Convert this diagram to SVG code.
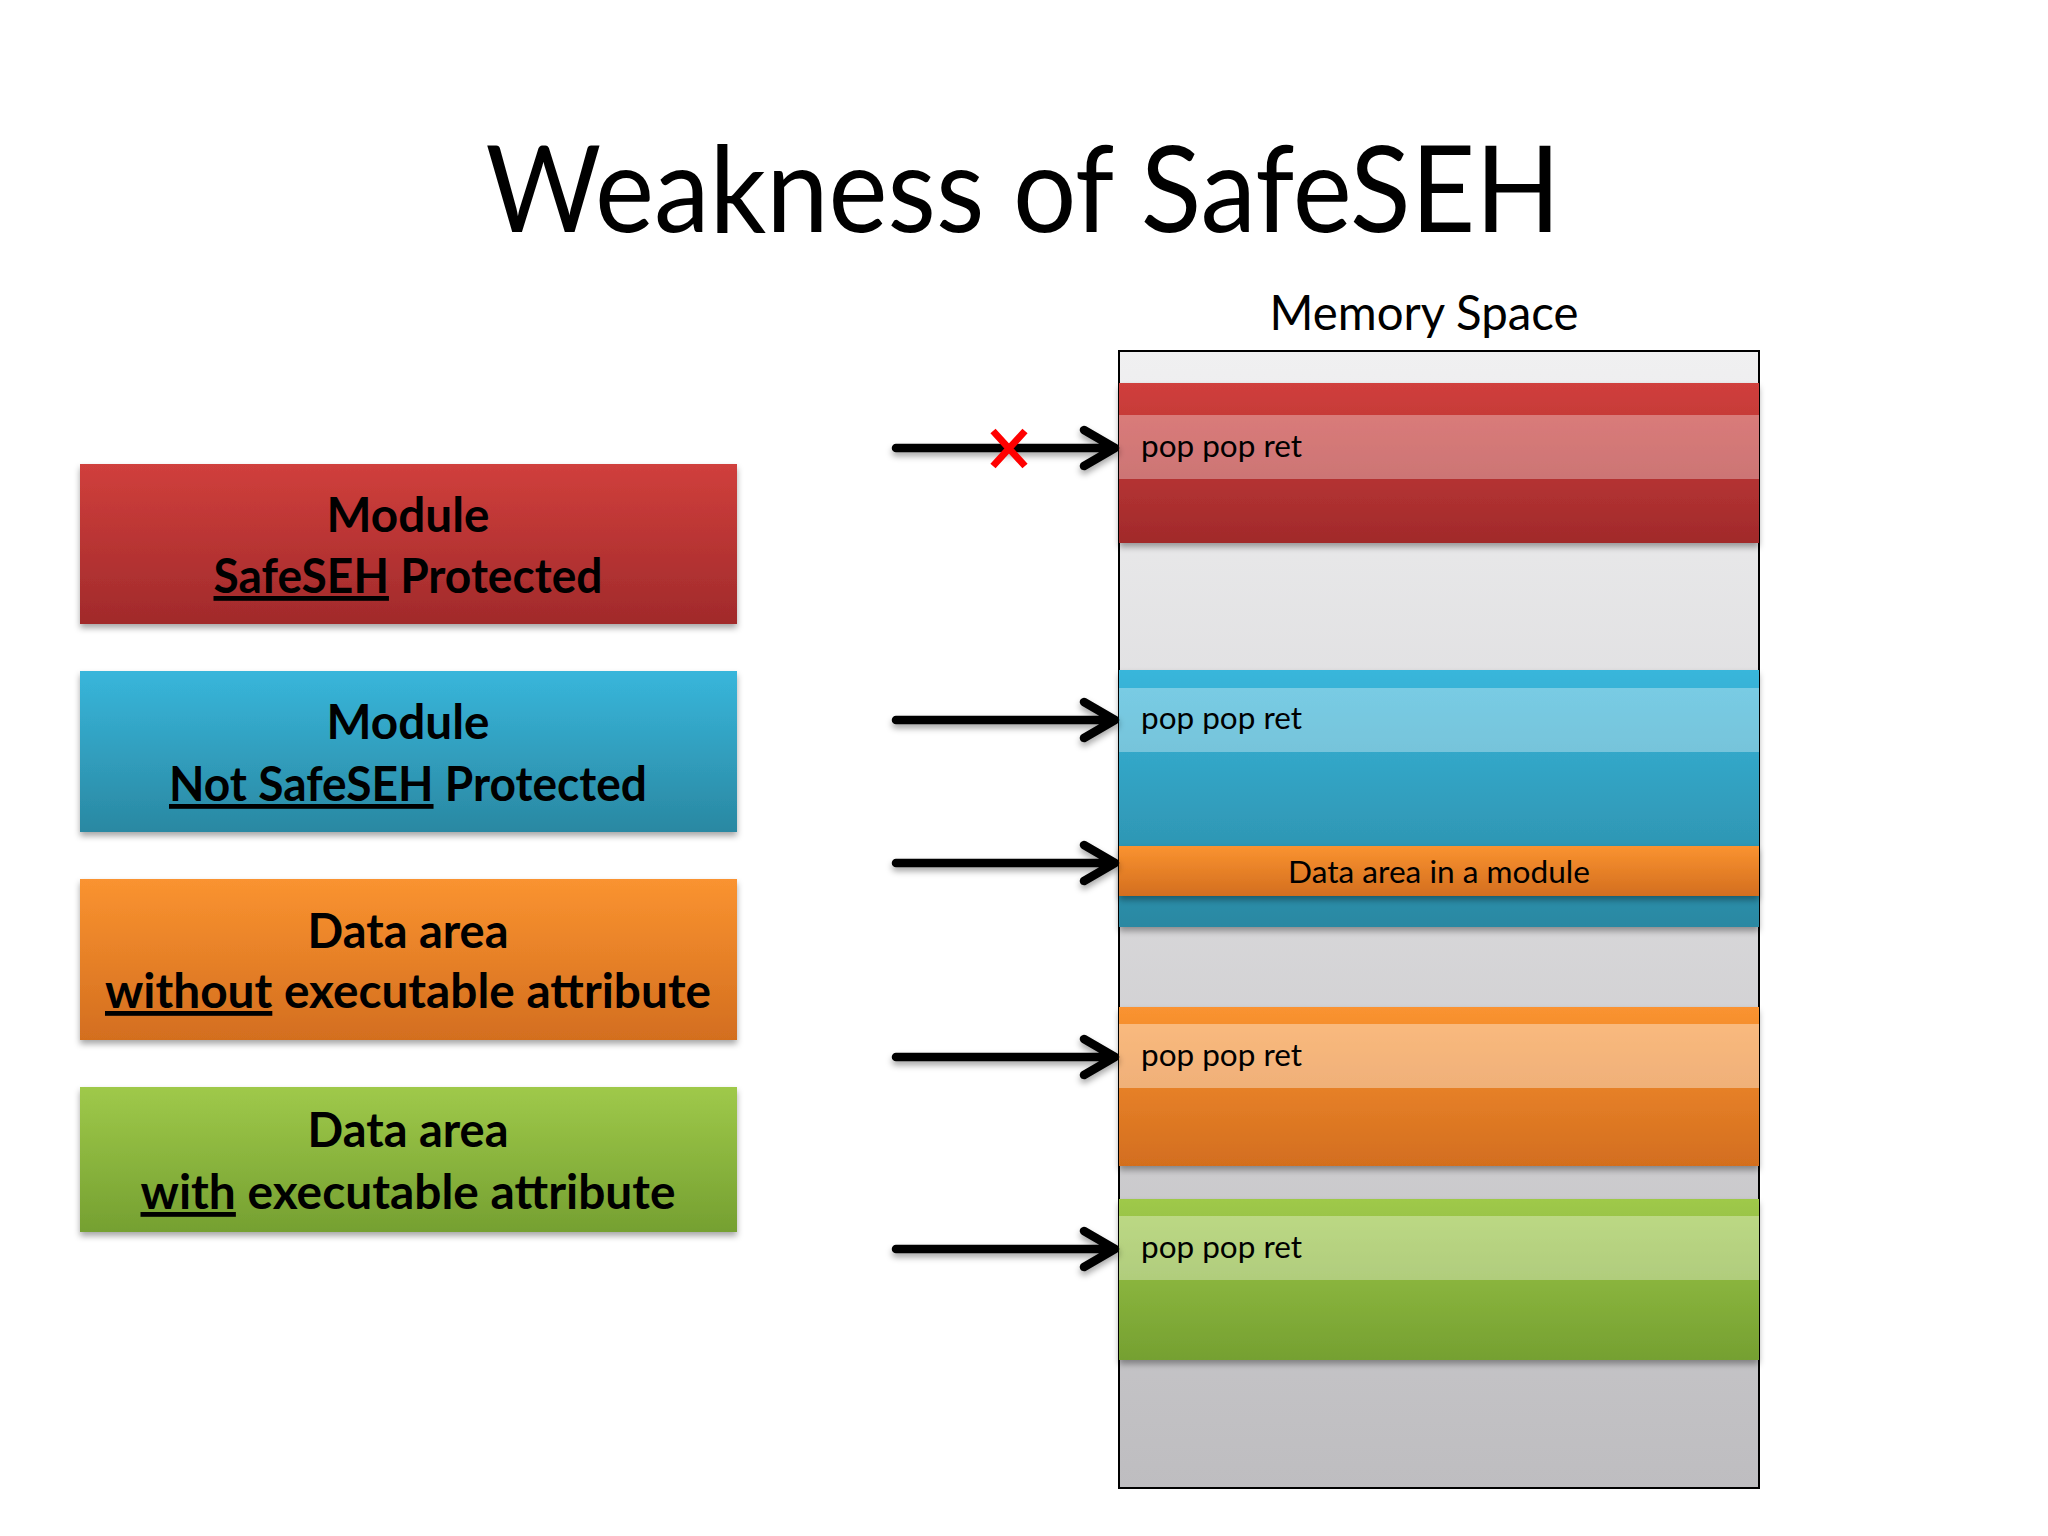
<svg xmlns="http://www.w3.org/2000/svg" width="2048" height="1536" viewBox="0 0 2048 1536">
<style>
.title{font-family:Lato,"Open Sans",sans-serif;font-size:120px;fill:#000}
.mem{font-family:Lato,"Open Sans",sans-serif;font-size:48px;fill:#000}
.lbl{font-family:Lato,"Open Sans",sans-serif;font-size:48px;font-weight:bold;fill:#000}
.ppr{font-family:Lato,"Open Sans",sans-serif;font-size:30px;fill:#000}
.u{text-decoration:underline}
.hl{fill:#fff;fill-opacity:0.33}
.arr{fill:none;stroke:#000;stroke-width:8.5;stroke-linecap:round;stroke-linejoin:round}
</style>
<defs>
<linearGradient id="gGray" x1="0" y1="0" x2="0" y2="1"><stop offset="0" stop-color="#f0f0f1"/><stop offset="1" stop-color="#bebdc0"/></linearGradient>
<linearGradient id="gRed" x1="0" y1="0" x2="0" y2="1"><stop offset="0" stop-color="#d03f3c"/><stop offset="1" stop-color="#a12a2b"/></linearGradient>
<linearGradient id="gBlue" x1="0" y1="0" x2="0" y2="1"><stop offset="0" stop-color="#38b6db"/><stop offset="1" stop-color="#2a88a2"/></linearGradient>
<linearGradient id="gOrange" x1="0" y1="0" x2="0" y2="1"><stop offset="0" stop-color="#fa9330"/><stop offset="1" stop-color="#d36e1f"/></linearGradient>
<linearGradient id="gGreen" x1="0" y1="0" x2="0" y2="1"><stop offset="0" stop-color="#9fc94a"/><stop offset="1" stop-color="#75a031"/></linearGradient>
<filter id="sh" x="-5%" y="-20%" width="110%" height="150%"><feDropShadow dx="0" dy="4" stdDeviation="3" flood-color="#000" flood-opacity="0.35"/></filter>
</defs>

<text class="title" x="1023" y="232" text-anchor="middle" textLength="1075" lengthAdjust="spacingAndGlyphs">Weakness of SafeSEH</text>

<g id="legend-safeseh">
<rect x="80" y="464" width="657" height="160" fill="url(#gRed)" filter="url(#sh)"/>
<text class="lbl" x="408" y="532" text-anchor="middle" textLength="163" lengthAdjust="spacingAndGlyphs">Module</text>
<text class="lbl" x="408" y="593" text-anchor="middle" textLength="389" lengthAdjust="spacingAndGlyphs"><tspan class="u">SafeSEH</tspan> Protected</text>
</g>
<g id="legend-notsafeseh">
<rect x="80" y="671" width="657" height="161" fill="url(#gBlue)" filter="url(#sh)"/>
<text class="lbl" x="408" y="739" text-anchor="middle" textLength="163" lengthAdjust="spacingAndGlyphs">Module</text>
<text class="lbl" x="408" y="801" text-anchor="middle" textLength="478" lengthAdjust="spacingAndGlyphs"><tspan class="u">Not SafeSEH</tspan> Protected</text>
</g>
<g id="legend-data-noexec">
<rect x="80" y="879" width="657" height="161" fill="url(#gOrange)" filter="url(#sh)"/>
<text class="lbl" x="408" y="948" text-anchor="middle" textLength="201" lengthAdjust="spacingAndGlyphs">Data area</text>
<text class="lbl" x="408" y="1008" text-anchor="middle" textLength="606" lengthAdjust="spacingAndGlyphs"><tspan class="u">without</tspan> executable attribute</text>
</g>
<g id="legend-data-exec">
<rect x="80" y="1087" width="657" height="145" fill="url(#gGreen)" filter="url(#sh)"/>
<text class="lbl" x="408" y="1147" text-anchor="middle" textLength="201" lengthAdjust="spacingAndGlyphs">Data area</text>
<text class="lbl" x="408" y="1209" text-anchor="middle" textLength="535" lengthAdjust="spacingAndGlyphs"><tspan class="u">with</tspan> executable attribute</text>
</g>

<g id="memory-space">
<text class="mem" x="1424" y="330" text-anchor="middle" textLength="309" lengthAdjust="spacingAndGlyphs">Memory Space</text>
<rect x="1119" y="351" width="640" height="1137" fill="url(#gGray)" stroke="#000" stroke-width="2"/>
</g>

<g id="mem-safeseh">
<rect x="1119" y="383" width="640" height="160" fill="url(#gRed)" filter="url(#sh)"/>
<rect class="hl" x="1119" y="415" width="640" height="64"/>
<text class="ppr" x="1141" y="457" textLength="161" lengthAdjust="spacingAndGlyphs">pop pop ret</text>
</g>
<g id="mem-notsafeseh">
<rect x="1119" y="670" width="640" height="257" fill="url(#gBlue)" filter="url(#sh)"/>
<rect class="hl" x="1119" y="688" width="640" height="64"/>
<text class="ppr" x="1141" y="729" textLength="161" lengthAdjust="spacingAndGlyphs">pop pop ret</text>
</g>
<g id="mem-data-in-module">
<rect x="1119" y="846" width="640" height="50" fill="url(#gOrange)" filter="url(#sh)"/>
<text class="ppr" x="1439" y="883" text-anchor="middle" textLength="302" lengthAdjust="spacingAndGlyphs">Data area in a module</text>
</g>
<g id="mem-data-noexec">
<rect x="1119" y="1007" width="640" height="159" fill="url(#gOrange)" filter="url(#sh)"/>
<rect class="hl" x="1119" y="1024" width="640" height="64" style="fill-opacity:0.38"/>
<text class="ppr" x="1141" y="1066" textLength="161" lengthAdjust="spacingAndGlyphs">pop pop ret</text>
</g>
<g id="mem-data-exec">
<rect x="1119" y="1199" width="640" height="161" fill="url(#gGreen)" filter="url(#sh)"/>
<rect class="hl" x="1119" y="1216" width="640" height="64"/>
<text class="ppr" x="1141" y="1258" textLength="161" lengthAdjust="spacingAndGlyphs">pop pop ret</text>
</g>

<g id="connectors" filter="url(#sh)">
<path class="arr" d="M896,448 H1112 M1084,430 L1115,448 L1084,466"/>
<path class="arr" d="M896,720 H1112 M1084,702 L1115,720 L1084,738"/>
<path class="arr" d="M896,863 H1112 M1084,845 L1115,863 L1084,881"/>
<path class="arr" d="M896,1057 H1112 M1084,1039 L1115,1057 L1084,1075"/>
<path class="arr" d="M896,1249 H1112 M1084,1231 L1115,1249 L1084,1267"/>
</g>
<g id="blocked-mark">
<path d="M993,431 L1025,466 M1025,431 L993,466" stroke="#ff0000" stroke-width="7" fill="none"/>
</g>
</svg>
